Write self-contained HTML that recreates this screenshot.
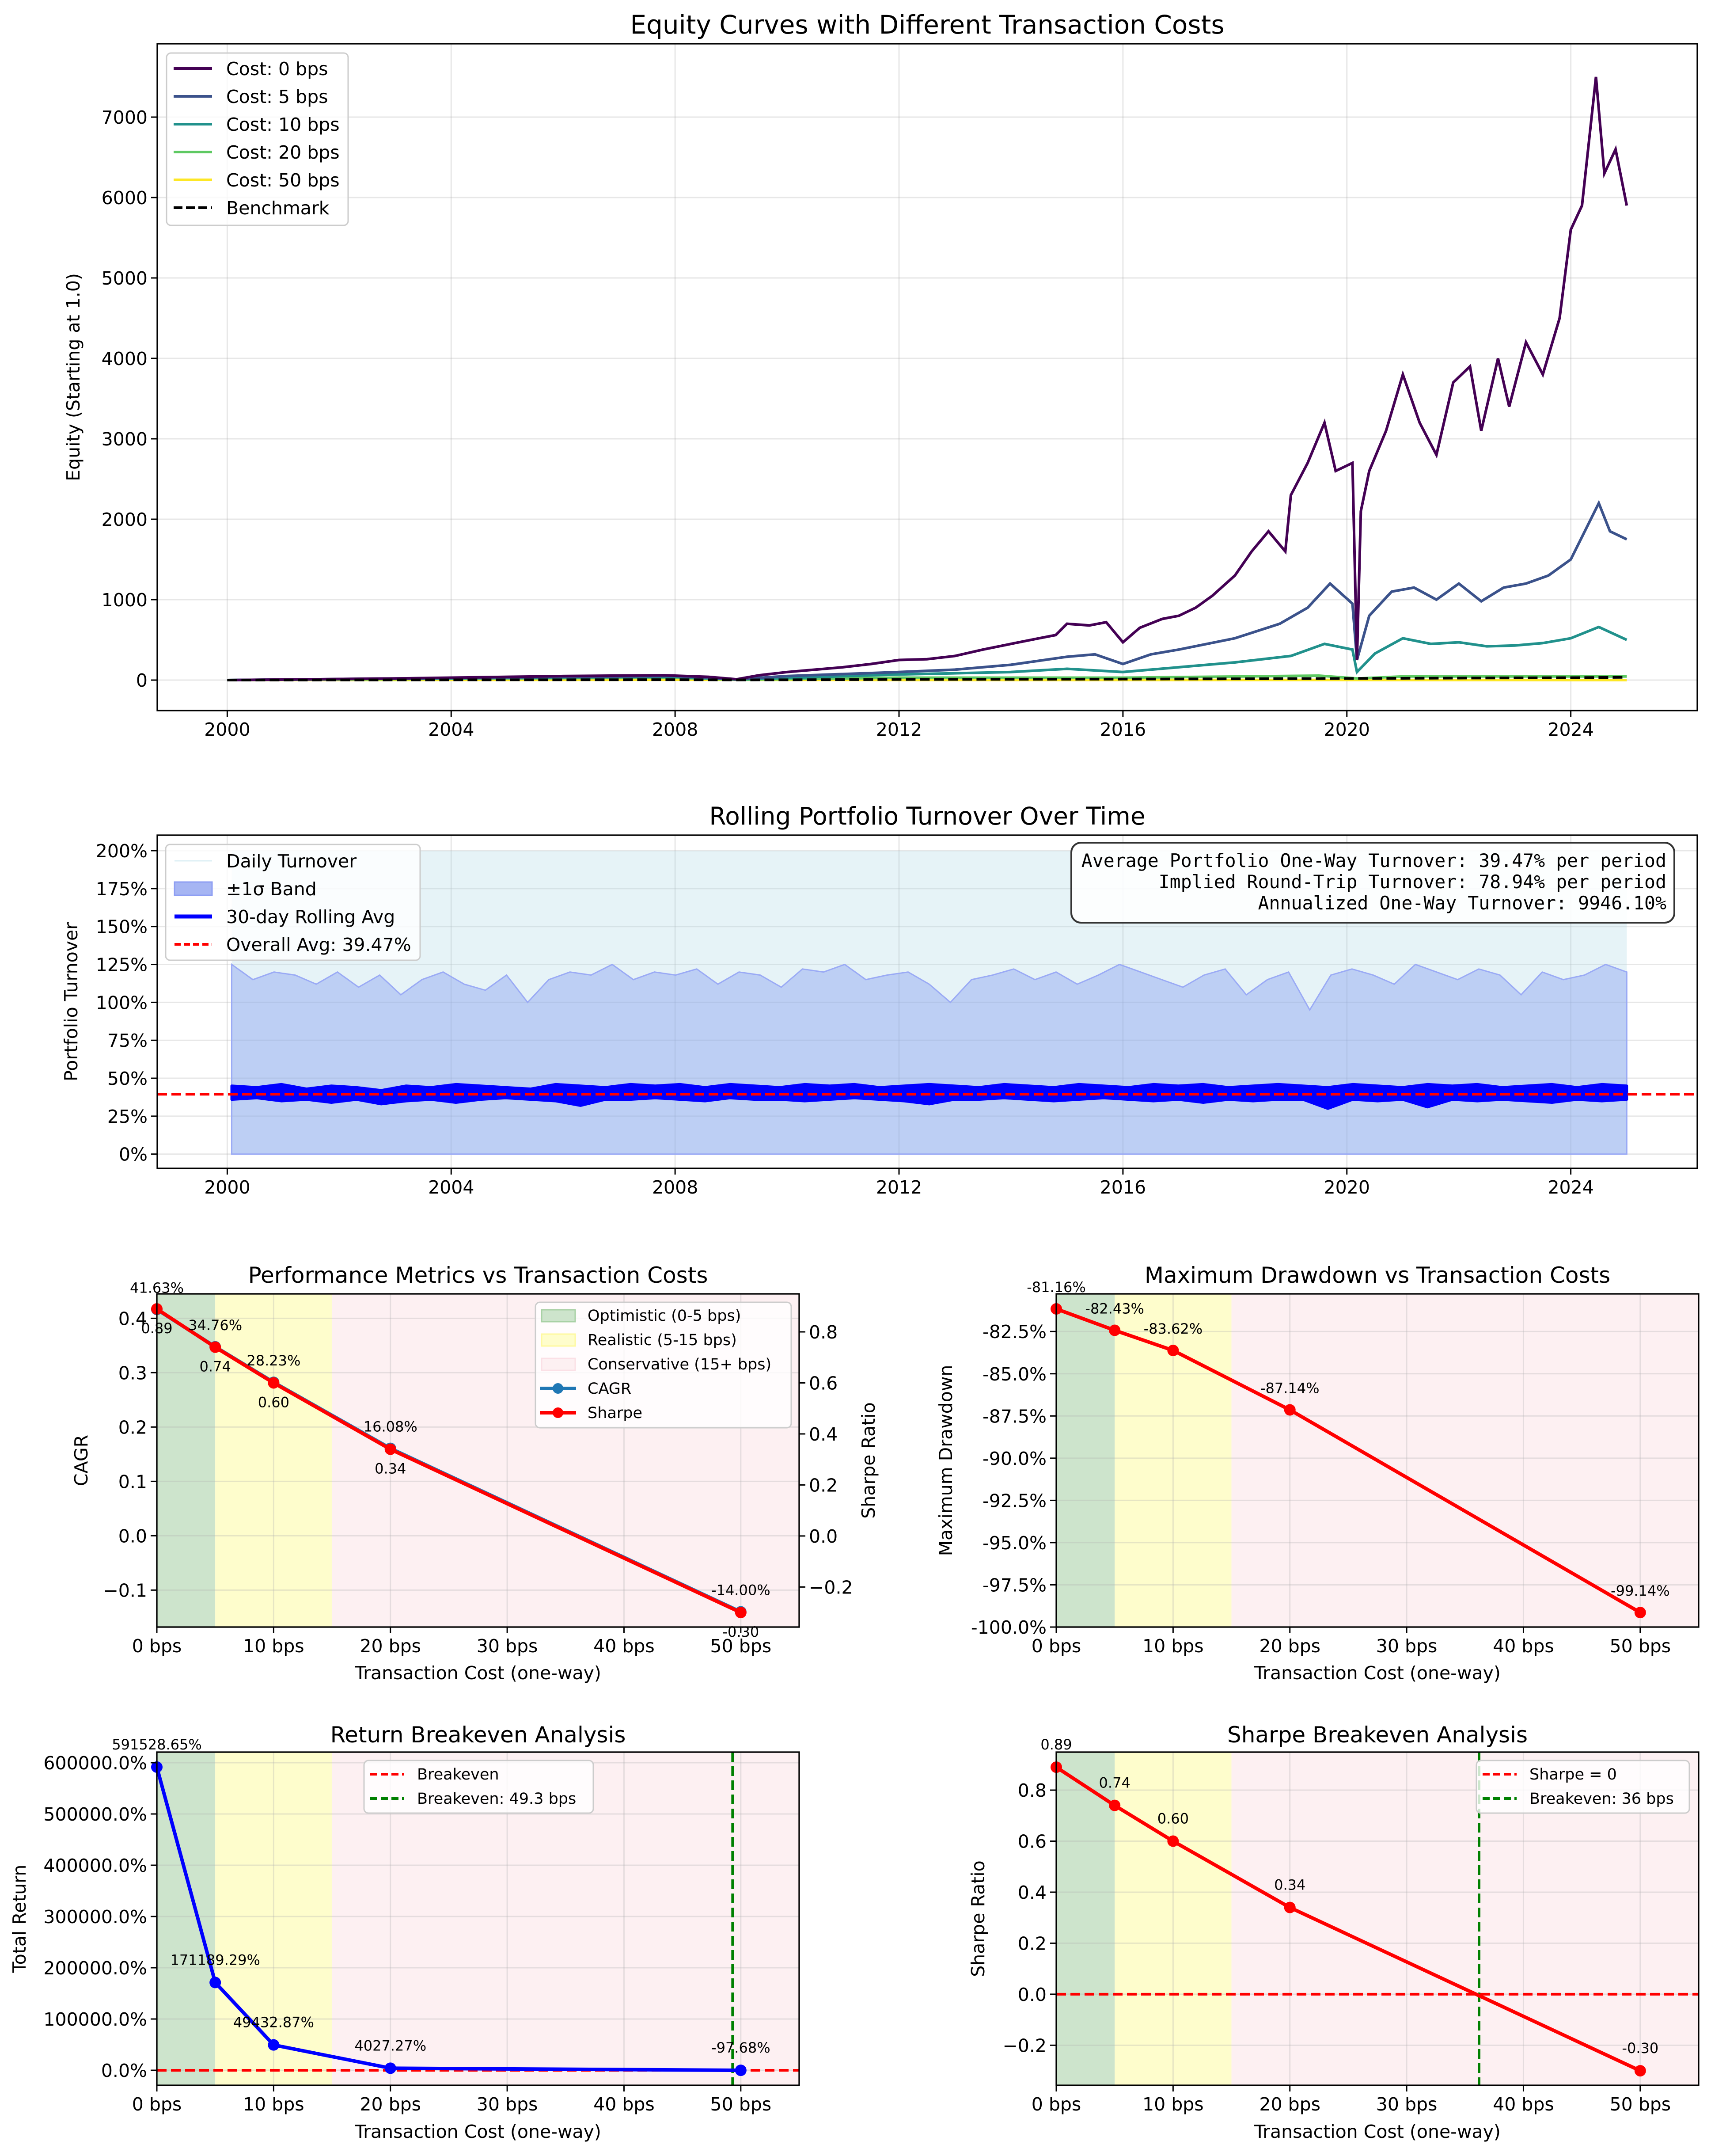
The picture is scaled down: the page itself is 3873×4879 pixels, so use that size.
<!DOCTYPE html>
<html><head><meta charset="utf-8"><title>Transaction cost analysis</title>
<style>
html,body{margin:0;padding:0;background:#fff;}
svg{display:block;font-family:"DejaVu Sans","Liberation Sans",sans-serif;}
</style></head>
<body>
<svg id="chart" width="3873" height="4879" viewBox="0 0 3873 4879" xmlns="http://www.w3.org/2000/svg"></svg>
<script>
// ---------- Panel 1 data: equity curves ----------
const eqYears0 = [2000,2003,2006,2007.8,2008.6,2009.1,2009.5,2010,2010.5,2011,2011.5,2012,2012.5,2013,2013.5,2014,2014.5,2014.8,2015,2015.4,2015.7,2016,2016.3,2016.7,2017,2017.3,2017.6,2018,2018.3,2018.6,2018.9,2019,2019.3,2019.6,2019.8,2020.1,2020.18,2020.25,2020.4,2020.7,2021,2021.3,2021.6,2021.9,2022.2,2022.4,2022.7,2022.9,2023.2,2023.5,2023.8,2024,2024.2,2024.45,2024.6,2024.8,2025];
const eqVals0  = [0,20,50,60,40,10,60,100,130,160,200,250,260,300,380,450,520,560,700,680,720,470,650,760,800,900,1050,1300,1600,1850,1600,2300,2700,3200,2600,2700,250,2100,2600,3100,3800,3200,2800,3700,3900,3100,4000,3400,4200,3800,4500,5600,5900,7500,6300,6600,5900];
const eqYears5 = [2000,2006,2008,2009.1,2010,2012,2013,2014,2015,2015.5,2016,2016.5,2017,2018,2018.8,2019.3,2019.7,2020.1,2020.18,2020.4,2020.8,2021.2,2021.6,2022,2022.4,2022.8,2023.2,2023.6,2024,2024.5,2024.7,2025];
const eqVals5  = [0,40,50,10,50,100,130,190,290,320,200,320,380,520,700,900,1200,950,250,800,1100,1150,1000,1200,980,1150,1200,1300,1500,2200,1850,1750];
const eqYears10 = [2000,2006,2008,2009.1,2012,2014,2015,2016,2017,2018,2019,2019.6,2020.1,2020.18,2020.5,2021,2021.5,2022,2022.5,2023,2023.5,2024,2024.5,2025];
const eqVals10  = [0,35,40,8,70,100,140,100,160,220,300,450,380,100,330,520,450,470,420,430,460,520,660,500];
const eqYears20 = [2000,2006,2008,2009.1,2012,2016,2019.5,2020.2,2021,2024,2025];
const eqVals20  = [0,25,30,5,30,30,55,20,45,45,45];
const eqYears50 = [2000,2008,2012,2016,2020,2025];
const eqVals50  = [0,5,2,1,1,0];
const benchYears = [2000,2008,2009.1,2012,2016,2020,2022,2024,2025];
const benchVals  = [0,5,2,8,12,20,25,30,35];
const eqTicks = [0,1000,2000,3000,4000,5000,6000,7000];
const yearTicks = [2000,2004,2008,2012,2016,2020,2024];

// ---------- Panel 2 data: turnover ----------
const bandUpper = [125,115,120,118,112,120,110,118,105,115,120,112,108,118,100,115,120,118,125,115,120,118,122,112,120,118,110,122,120,125,115,118,120,112,100,115,118,122,115,120,112,118,125,120,115,110,118,122,105,115,120,95,118,122,118,112,125,120,115,122,118,105,120,115,118,125,120];
const rollHi = [45,44,46,43,45,44,42,45,44,46,45,44,43,46,45,44,46,45,46,44,46,45,44,46,45,46,44,45,46,45,44,46,45,44,46,45,44,46,45,46,44,45,46,45,44,46,45,44,46,45,46,44,45,46,44,46,45];
const rollLo = [36,37,35,36,34,36,33,35,36,34,36,37,36,35,32,36,36,37,36,35,37,36,36,35,36,37,36,35,33,36,36,37,36,35,36,37,36,35,36,34,36,35,36,36,30,36,35,36,31,36,35,36,35,34,36,35,36];
const overallAvg = 39.47;
const pctTicks = [0,25,50,75,100,125,150,175,200];

// ---------- Cost sensitivity data ----------
const costs = [0,5,10,20,50];
const cagr = [0.4163,0.3476,0.2823,0.1608,-0.14];
const cagrLabels = ["41.63%","34.76%","28.23%","16.08%","-14.00%"];
const sharpe = [0.89,0.74,0.60,0.34,-0.30];
const sharpeLabels = ["0.89","0.74","0.60","0.34","-0.30"];
const maxDD = [-81.16,-82.43,-83.62,-87.14,-99.14];
const ddLabels = ["-81.16%","-82.43%","-83.62%","-87.14%","-99.14%"];
const totalRet = [591528.65,171189.29,49432.87,4027.27,-97.68];
const retLabels = ["591528.65%","171189.29%","49432.87%","4027.27%","-97.68%"];
const costTicks = [0,10,20,30,40,50];
const cagrTicks = [-0.1,0.0,0.1,0.2,0.3,0.4];
const sharpeTwinTicks = [-0.2,0.0,0.2,0.4,0.6,0.8];
const ddTicks = [-100,-97.5,-95,-92.5,-90,-87.5,-85,-82.5];
const retTicks = [0,100000,200000,300000,400000,500000,600000];
const sharpeTicks = [-0.2,0,0.2,0.4,0.6,0.8];
const retBreakeven = 49.3;
const sharpeBreakeven = 36.2;

const NS = 'http://www.w3.org/2000/svg';
const svg = document.getElementById('chart');
function mk(tag, attrs, parent, name, inter) {
  const e = document.createElementNS(NS, tag);
  for (const k in attrs) e.setAttribute(k, attrs[k]);
  
  
  (parent || svg).appendChild(e);
  return e;
}
function txt(x, y, s, size, anchor, parent, name, extra) {
  const a = Object.assign({x:x, y:y, 'font-size':size, 'text-anchor':anchor||'middle', fill:'#000'}, extra||{});
  const t = mk('text', a, parent, name);
  t.textContent = s;
  return t;
}
function axes(L,R,T,B,x0,x1,y0,y1){
  return {L,R,T,B,sx:v=>L+(v-x0)/(x1-x0)*(R-L),sy:v=>B-(v-y0)/(y1-y0)*(B-T)};
}
function grid(ax, xt, yt, g){
  xt.forEach(v=>{mk('line',{x1:ax.sx(v),x2:ax.sx(v),y1:ax.T,y2:ax.B,stroke:'#b0b0b0','stroke-opacity':0.3,'stroke-width':3},g,'x-gridline');});
  yt.forEach(v=>{mk('line',{x1:ax.L,x2:ax.R,y1:ax.sy(v),y2:ax.sy(v),stroke:'#b0b0b0','stroke-opacity':0.3,'stroke-width':3},g,'y-gridline');});
}
function frame(ax, xt, xl, yt, yl, g){
  mk('rect',{x:ax.L,y:ax.T,width:ax.R-ax.L,height:ax.B-ax.T,fill:'none',stroke:'#000','stroke-width':3.3},g,'axes-frame');
  xt.forEach((v,i)=>{const x=ax.sx(v);
    mk('line',{x1:x,x2:x,y1:ax.B,y2:ax.B+14,stroke:'#000','stroke-width':3},g,'x-tick');
    txt(x,ax.B+57,xl[i],41,'middle',g,'x-tick-label');});
  yt.forEach((v,i)=>{const y=ax.sy(v);
    mk('line',{x1:ax.L-14,x2:ax.L,y1:y,y2:y,stroke:'#000','stroke-width':3},g,'y-tick');
    txt(ax.L-22,y+15,yl[i],41,'end',g,'y-tick-label');});
}
function pathOf(xs, ys, ax){return xs.map((v,i)=>(i?'L':'M')+ax.sx(v).toFixed(1)+' '+ax.sy(ys[i]).toFixed(1)).join(' ');}
function clip(id, ax){
  const d = mk('clipPath',{id:id},svg,'clip-region');
  mk('rect',{x:ax.L,y:ax.T,width:ax.R-ax.L,height:ax.B-ax.T},d,'clip-rect');
}
function ylab(x,y,s,g,name){txt(x,y,s,41,'middle',g,name,{transform:`rotate(-90 ${x} ${y})`});}

// ================= Panel 1 =================
(function(){
  const g = mk('g',{},svg,'equity-panel');
  const ax = axes(356,3842,99,1608,1998.75,2026.26,-379,7912);
  clip('c1',ax);
  grid(ax,yearTicks,eqTicks,g);
  const pg = mk('g',{'clip-path':'url(#c1)'},g,'equity-lines');
  mk('path',{d:pathOf(eqYears50,eqVals50,ax),fill:'none',stroke:'#fde725','stroke-width':6},pg,'line-cost-50bps');
  mk('path',{d:pathOf(eqYears20,eqVals20,ax),fill:'none',stroke:'#5ec962','stroke-width':6},pg,'line-cost-20bps');
  mk('path',{d:pathOf(eqYears10,eqVals10,ax),fill:'none',stroke:'#21918c','stroke-width':6},pg,'line-cost-10bps');
  mk('path',{d:pathOf(eqYears5,eqVals5,ax),fill:'none',stroke:'#3b528b','stroke-width':6},pg,'line-cost-5bps');
  mk('path',{d:pathOf(eqYears0,eqVals0,ax),fill:'none',stroke:'#440154','stroke-width':6},pg,'line-cost-0bps');
  mk('path',{d:pathOf(benchYears,benchVals,ax),fill:'none',stroke:'#000','stroke-width':6,'stroke-dasharray':'22 10'},pg,'line-benchmark');
  frame(ax,yearTicks,yearTicks.map(String),eqTicks,eqTicks.map(String),g);
  txt((ax.L+ax.R)/2,76,'Equity Curves with Different Transaction Costs',58,'middle',g,'equity-title');
  ylab(180,(ax.T+ax.B)/2,'Equity (Starting at 1.0)',g,'equity-y-axis-title');
  const lg = mk('g',{},g,'equity-legend');
  mk('rect',{x:377,y:120,width:411,height:390,rx:10,fill:'#fff','fill-opacity':0.8,stroke:'#ccc','stroke-width':3},lg,'legend-box');
  const names=['Cost: 0 bps','Cost: 5 bps','Cost: 10 bps','Cost: 20 bps','Cost: 50 bps','Benchmark'];
  const cols=['#440154','#3b528b','#21918c','#5ec962','#fde725','#000'];
  names.forEach((n,i)=>{const y=155+i*63;
    const le = mk('g',{},lg,'legend-entry',true);
    mk('line',{x1:393,x2:480,y1:y,y2:y,stroke:cols[i],'stroke-width':6,'stroke-dasharray':i==5?'20 8':'none'},le,'legend-swatch');
    txt(512,y+15,n,41,'start',le,'legend-label');});
})();

// ================= Panel 2 =================
(function(){
  const g = mk('g',{},svg,'turnover-panel');
  const ax = axes(356,3842,1890,2644,1998.75,2026.26,-9.4,210.2);
  clip('c2',ax);
  grid(ax,yearTicks,pctTicks,g);
  const pg = mk('g',{'clip-path':'url(#c2)'},g,'turnover-marks');
  const xs=2000.08, xe=2025.0;
  mk('rect',{x:ax.sx(xs),y:ax.sy(200),width:ax.sx(xe)-ax.sx(xs),height:ax.sy(0)-ax.sy(200),fill:'#add8e6','fill-opacity':0.3},pg,'daily-turnover-area');
  const n=bandUpper.length;
  const bx=bandUpper.map((v,i)=>xs+(xe-xs)*i/(n-1));
  let d='M'+ax.sx(xs)+' '+ax.sy(0)+' '+bx.map((x,i)=>'L'+ax.sx(x).toFixed(1)+' '+ax.sy(bandUpper[i]).toFixed(1)).join(' ')+' L'+ax.sx(xe)+' '+ax.sy(0)+'Z';
  mk('path',{d:d,fill:'#7b96f0','fill-opacity':0.38,stroke:'#9aaaf5','stroke-width':3},pg,'sigma-band');
  const m=rollHi.length;
  const rx=rollHi.map((v,i)=>xs+(xe-xs)*i/(m-1));
  let p='M'+rx.map((x,i)=>ax.sx(x).toFixed(1)+' '+ax.sy(rollHi[i]).toFixed(1)).join(' L');
  for(let i=m-1;i>=0;i--) p+=' L'+ax.sx(rx[i]).toFixed(1)+' '+ax.sy(rollLo[i]).toFixed(1);
  mk('path',{d:p+'Z',fill:'#0000ff',stroke:'#0000ff','stroke-width':6,'stroke-linejoin':'round'},pg,'rolling-avg-line');
  mk('line',{x1:ax.L,x2:ax.R,y1:ax.sy(overallAvg),y2:ax.sy(overallAvg),stroke:'#ff0000','stroke-width':6,'stroke-dasharray':'22 10'},g,'overall-avg-line');
  frame(ax,yearTicks,yearTicks.map(String),pctTicks,pctTicks.map(v=>v+'%'),g);
  txt((ax.L+ax.R)/2,1866,'Rolling Portfolio Turnover Over Time',55,'middle',g,'turnover-title');
  ylab(175,(ax.T+ax.B)/2,'Portfolio Turnover',g,'turnover-y-axis-title');
  const lg = mk('g',{},g,'turnover-legend');
  mk('rect',{x:375,y:1911,width:576,height:262,rx:10,fill:'#fff','fill-opacity':0.8,stroke:'#ccc','stroke-width':3},lg,'legend-box');
  const rows=[['Daily Turnover'],['±1σ Band'],['30-day Rolling Avg'],['Overall Avg: 39.47%']];
  rows.forEach((r,i)=>{const y=1948+i*63; const le=mk('g',{},lg,'legend-entry',true);
    if(i==0) mk('line',{x1:395,x2:480,y1:y,y2:y,stroke:'#add8e6','stroke-width':3,'stroke-opacity':0.4},le,'legend-swatch');
    if(i==1) mk('rect',{x:395,y:y-15,width:85,height:30,fill:'#a6b5f3',stroke:'#8e9ef3','stroke-width':3},le,'legend-swatch');
    if(i==2) mk('line',{x1:395,x2:480,y1:y,y2:y,stroke:'#0000ff','stroke-width':9},le,'legend-swatch');
    if(i==3) mk('line',{x1:395,x2:480,y1:y,y2:y,stroke:'#ff0000','stroke-width':6,'stroke-dasharray':'14 7'},le,'legend-swatch');
    txt(512,y+15,r[0],41,'start',le,'legend-label');});
  const tb = mk('g',{},g,'turnover-stats-box');
  mk('rect',{x:2425,y:1907,width:1365,height:181,rx:22,fill:'#fff','fill-opacity':0.85,stroke:'#333','stroke-width':4},tb,'stats-box');
  const lines=['Average Portfolio One-Way Turnover: 39.47% per period','Implied Round-Trip Turnover: 78.94% per period','Annualized One-Way Turnover: 9946.10%'];
  lines.forEach((s,i)=>txt(3772,1962+i*48,s,41.5,'end',tb,'stats-line',{'font-family':'"DejaVu Sans Mono","Liberation Mono",monospace'}));
})();

// ---------- shading helper ----------
function zones(ax,g){
  mk('rect',{x:ax.sx(0),y:ax.T,width:ax.sx(5)-ax.sx(0),height:ax.B-ax.T,fill:'#cde4cc'},g,'zone-optimistic');
  mk('rect',{x:ax.sx(5),y:ax.T,width:ax.sx(15)-ax.sx(5),height:ax.B-ax.T,fill:'#fefdcc'},g,'zone-realistic');
  mk('rect',{x:ax.sx(15),y:ax.T,width:ax.R-ax.sx(15),height:ax.B-ax.T,fill:'#fdf0f2'},g,'zone-conservative');
}
const costLabels = costTicks.map(v=>v+' bps');
function fmtMinus(v,dp){return (v<0?'−':'')+Math.abs(v).toFixed(dp);}

// ================= Panel 3 =================
(function(){
  const g = mk('g',{},svg,'performance-panel');
  const ax = axes(355,1809,2928,3682,0,55,-0.168,0.445);
  const tw = axes(355,1809,2928,3682,0,55,-0.357,0.949);
  zones(ax,g);
  grid(ax,costTicks,cagrTicks,g);
  mk('path',{d:pathOf(costs,cagr,ax),fill:'none',stroke:'#1f77b4','stroke-width':8},g,'cagr-line');
  costs.forEach((c,i)=>mk('circle',{cx:ax.sx(c),cy:ax.sy(cagr[i]),r:13,fill:'#1f77b4'},g,'cagr-point'));
  mk('path',{d:pathOf(costs,sharpe,tw),fill:'none',stroke:'#ff0000','stroke-width':8},g,'sharpe-line');
  costs.forEach((c,i)=>mk('circle',{cx:tw.sx(c),cy:tw.sy(sharpe[i]),r:13,fill:'#ff0000'},g,'sharpe-point'));
  costs.forEach((c,i)=>txt(ax.sx(c),ax.sy(cagr[i])-38,cagrLabels[i],32,'middle',g,'cagr-value-label'));
  costs.forEach((c,i)=>txt(tw.sx(c),tw.sy(sharpe[i])+55,sharpeLabels[i],32,'middle',g,'sharpe-value-label'));
  frame(ax,costTicks,costLabels,cagrTicks,cagrTicks.map(v=>fmtMinus(v,1)),g);
  sharpeTwinTicks.forEach(v=>{const y=tw.sy(v);
    mk('line',{x1:ax.R,x2:ax.R+14,y1:y,y2:y,stroke:'#000','stroke-width':3},g,'y2-tick');
    txt(ax.R+22,y+15,fmtMinus(v,1),41,'start',g,'y2-tick-label');});
  txt((ax.L+ax.R)/2,2903,'Performance Metrics vs Transaction Costs',50,'middle',g,'performance-title');
  txt((ax.L+ax.R)/2,3800,'Transaction Cost (one-way)',41,'middle',g,'performance-x-axis-title');
  ylab(198,(ax.T+ax.B)/2,'CAGR',g,'cagr-axis-title');
  ylab(1980,(ax.T+ax.B)/2,'Sharpe Ratio',g,'sharpe-axis-title');
  const lg = mk('g',{},g,'performance-legend');
  mk('rect',{x:1212,y:2947,width:579,height:284,rx:10,fill:'#fff','fill-opacity':0.8,stroke:'#ccc','stroke-width':3},lg,'legend-box');
  const items=[['Optimistic (0-5 bps)','#cde4cc','#a8d1a5'],['Realistic (5-15 bps)','#fefdcc','#fef9a0'],['Conservative (15+ bps)','#fdf0f2','#fbe0e6'],['CAGR','#1f77b4'],['Sharpe','#ff0000']];
  items.forEach((it,i)=>{const y=2977+i*55; const le=mk('g',{},lg,'legend-entry',true);
    if(i<3) mk('rect',{x:1226,y:y-13,width:76,height:27,fill:it[1],stroke:it[2],'stroke-width':3},le,'legend-swatch');
    else {mk('line',{x1:1222,x2:1304,y1:y,y2:y,stroke:it[1],'stroke-width':8},le,'legend-swatch');
          mk('circle',{cx:1263,cy:y,r:12,fill:it[1]},le,'legend-marker');}
    txt(1330,y+12,it[0],35,'start',le,'legend-label');});
})();

// ================= Panel 4 =================
(function(){
  const g = mk('g',{},svg,'drawdown-panel');
  const ax = axes(2391,3845,2928,3682,0,55,-100,-80.27);
  zones(ax,g);
  grid(ax,costTicks,ddTicks,g);
  mk('path',{d:pathOf(costs,maxDD,ax),fill:'none',stroke:'#ff0000','stroke-width':8},g,'drawdown-line');
  costs.forEach((c,i)=>mk('circle',{cx:ax.sx(c),cy:ax.sy(maxDD[i]),r:13,fill:'#ff0000'},g,'drawdown-point'));
  costs.forEach((c,i)=>txt(ax.sx(c),ax.sy(maxDD[i])-38,ddLabels[i],32,'middle',g,'drawdown-value-label'));
  frame(ax,costTicks,costLabels,ddTicks,ddTicks.map(v=>v.toFixed(1)+'%'),g);
  txt((ax.L+ax.R)/2,2903,'Maximum Drawdown vs Transaction Costs',50,'middle',g,'drawdown-title');
  txt((ax.L+ax.R)/2,3800,'Transaction Cost (one-way)',41,'middle',g,'drawdown-x-axis-title');
  ylab(2155,(ax.T+ax.B)/2,'Maximum Drawdown',g,'drawdown-y-axis-title');
})();

// ================= Panel 5 =================
(function(){
  const g = mk('g',{},svg,'return-breakeven-panel');
  const ax = axes(355,1809,3965,4719,0,55,-29300,620700);
  zones(ax,g);
  grid(ax,costTicks,retTicks,g);
  mk('line',{x1:ax.L,x2:ax.R,y1:ax.sy(0),y2:ax.sy(0),stroke:'#ff0000','stroke-width':6,'stroke-dasharray':'22 10'},g,'breakeven-zero-line');
  mk('line',{x1:ax.sx(retBreakeven),x2:ax.sx(retBreakeven),y1:ax.T,y2:ax.B,stroke:'#008000','stroke-width':6,'stroke-dasharray':'22 10'},g,'breakeven-cost-line');
  mk('path',{d:pathOf(costs,totalRet,ax),fill:'none',stroke:'#0000ff','stroke-width':8},g,'total-return-line');
  costs.forEach((c,i)=>mk('circle',{cx:ax.sx(c),cy:ax.sy(totalRet[i]),r:13,fill:'#0000ff'},g,'total-return-point'));
  costs.forEach((c,i)=>txt(ax.sx(c),ax.sy(totalRet[i])-40,retLabels[i],32,'middle',g,'total-return-value-label'));
  frame(ax,costTicks,costLabels,retTicks,retTicks.map(v=>v.toFixed(1)+'%'),g);
  txt((ax.L+ax.R)/2,3943,'Return Breakeven Analysis',50,'middle',g,'return-breakeven-title');
  txt((ax.L+ax.R)/2,4838,'Transaction Cost (one-way)',41,'middle',g,'return-x-axis-title');
  ylab(58,(ax.T+ax.B)/2,'Total Return',g,'total-return-axis-title');
  const lg = mk('g',{},g,'return-legend');
  mk('rect',{x:824,y:3984,width:519,height:119,rx:10,fill:'#fff','fill-opacity':0.8,stroke:'#ccc','stroke-width':3},lg,'legend-box');
  [['Breakeven','#ff0000'],['Breakeven: 49.3 bps','#008000']].forEach((it,i)=>{const y=4015+i*55; const le=mk('g',{},lg,'legend-entry',true);
    mk('line',{x1:838,x2:915,y1:y,y2:y,stroke:it[1],'stroke-width':6,'stroke-dasharray':'16 8'},le,'legend-swatch');
    txt(944,y+12,it[0],35,'start',le,'legend-label');});
})();

// ================= Panel 6 =================
(function(){
  const g = mk('g',{},svg,'sharpe-breakeven-panel');
  const ax = axes(2391,3845,3965,4719,0,55,-0.357,0.949);
  zones(ax,g);
  grid(ax,costTicks,sharpeTicks,g);
  mk('line',{x1:ax.L,x2:ax.R,y1:ax.sy(0),y2:ax.sy(0),stroke:'#ff0000','stroke-width':6,'stroke-dasharray':'22 10'},g,'sharpe-zero-line');
  mk('line',{x1:ax.sx(sharpeBreakeven),x2:ax.sx(sharpeBreakeven),y1:ax.T,y2:ax.B,stroke:'#008000','stroke-width':6,'stroke-dasharray':'22 10'},g,'sharpe-breakeven-line');
  mk('path',{d:pathOf(costs,sharpe,ax),fill:'none',stroke:'#ff0000','stroke-width':8},g,'sharpe-line');
  costs.forEach((c,i)=>mk('circle',{cx:ax.sx(c),cy:ax.sy(sharpe[i]),r:13,fill:'#ff0000'},g,'sharpe-point'));
  costs.forEach((c,i)=>txt(ax.sx(c),ax.sy(sharpe[i])-40,sharpeLabels[i],32,'middle',g,'sharpe-value-label'));
  frame(ax,costTicks,costLabels,sharpeTicks,sharpeTicks.map(v=>fmtMinus(v,1)),g);
  txt((ax.L+ax.R)/2,3943,'Sharpe Breakeven Analysis',50,'middle',g,'sharpe-breakeven-title');
  txt((ax.L+ax.R)/2,4838,'Transaction Cost (one-way)',41,'middle',g,'sharpe-x-axis-title');
  ylab(2228,(ax.T+ax.B)/2,'Sharpe Ratio',g,'sharpe-y-axis-title');
  const lg = mk('g',{},g,'sharpe-legend');
  mk('rect',{x:3342,y:3984,width:482,height:119,rx:10,fill:'#fff','fill-opacity':0.8,stroke:'#ccc','stroke-width':3},lg,'legend-box');
  [['Sharpe = 0','#ff0000'],['Breakeven: 36 bps','#008000']].forEach((it,i)=>{const y=4015+i*55; const le=mk('g',{},lg,'legend-entry',true);
    mk('line',{x1:3356,x2:3433,y1:y,y2:y,stroke:it[1],'stroke-width':6,'stroke-dasharray':'16 8'},le,'legend-swatch');
    txt(3462,y+12,it[0],35,'start',le,'legend-label');});
})();
</script>
</body></html>
